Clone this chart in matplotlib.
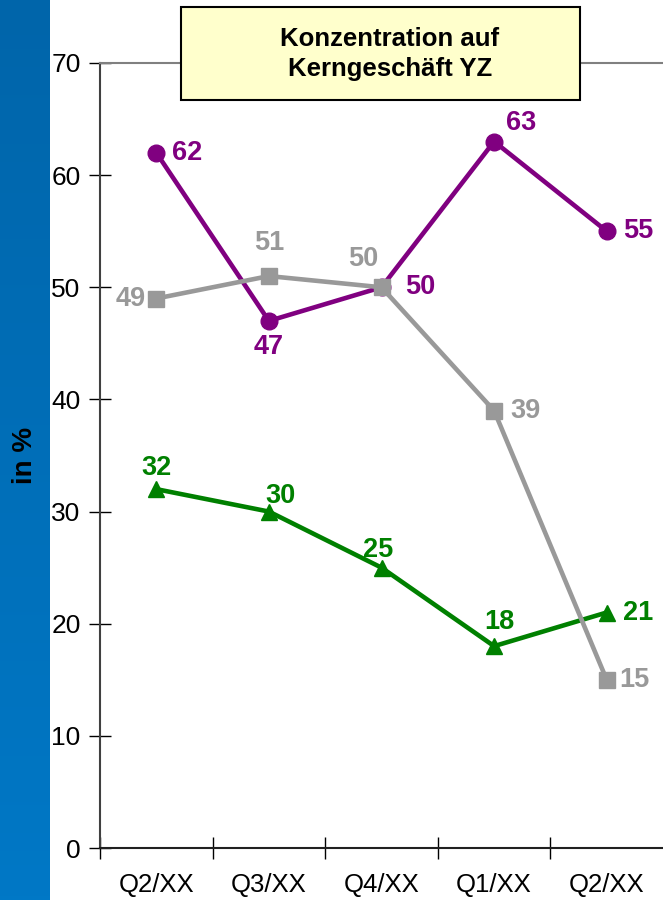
import numpy as np
import matplotlib
matplotlib.use("Agg")
import matplotlib.pyplot as plt
from matplotlib.patches import Rectangle
from matplotlib.colors import LinearSegmentedColormap

plt.rcParams['font.family'] = ['Liberation Sans', 'DejaVu Sans']

quarters = ["Q2/XX", "Q3/XX", "Q4/XX", "Q1/XX", "Q2/XX"]
purple_vals = [62, 47, 50, 63, 55]
gray_vals = [49, 51, 50, 39, 15]
green_vals = [32, 30, 25, 18, 21]

# label offsets in pixels (dx, dy) and horizontal alignment per point
purple_lbl = [((16, 0), 'left'), ((0, -26), 'center'), ((24, 0), 'left'), ((27, 18), 'center'), ((16, 0), 'left')]
gray_lbl = [((-11, 0), 'right'), ((0, 33), 'center'), ((-18, 28), 'center'), ((16, 0), 'left'), ((13, 0), 'left')]
green_lbl = [((0, 21), 'center'), ((12, 16), 'center'), ((-3, 18), 'center'), ((5, 24), 'center'), ((16, 0), 'left')]

PURPLE = "#800080"
GRAY = "#999999"
GREEN = "#008000"

W, H = 663, 900
fig = plt.figure(figsize=(W / 100, H / 100), dpi=100)

# blue side band
band = fig.add_axes([0, 0, 50 / W, 1])
cmap = LinearSegmentedColormap.from_list("band", ["#0065AA", "#0078C6"])
band.imshow(np.linspace(0, 1, 256).reshape(-1, 1), aspect='auto', cmap=cmap,
            extent=[0, 1, 0, 1])
band.set_axis_off()
fig.text(25 / W, 1 - 455 / H, "in %", rotation=90, ha='center', va='center',
         fontsize=20, fontweight='bold', color='black')

ax = fig.add_axes([100 / W, 1 - 848 / H, (663 - 100) / W, (848 - 63) / H])
x = np.arange(len(quarters))

series = [
    (green_vals, GREEN, '^', 12, green_lbl, 3),
    (purple_vals, PURPLE, 'o', 12, purple_lbl, 3),
    (gray_vals, GRAY, 's', 11, gray_lbl, 4),
]
for vals, col, mk, ms, lbls, z in series:
    ax.plot(x, vals, color=col, lw=3.3, marker=mk, markersize=ms,
            markerfacecolor=col, markeredgecolor=col, clip_on=False, zorder=z)
for vals, col, mk, ms, lbls, z in series:
    for xi, v, ((dx, dy), ha) in zip(x, vals, lbls):
        ax.annotate(str(v), (xi, v), xytext=(dx, dy), textcoords='offset pixels',
                    ha=ha, va='center', fontsize=19.5, fontweight='bold', color=col,
                    zorder=5)

ax.set_xlim(-0.5, 4.5)
ax.set_ylim(0, 70)
ax.set_yticks(range(0, 71, 10))
ax.set_xticks(np.arange(-0.5, 4.0, 1.0))
ax.set_xticklabels([])
ax.set_xticks(x, minor=True)
ax.set_xticklabels(quarters, minor=True)
ax.tick_params(axis='x', which='minor', length=0, pad=18, labelsize=18.5)
ax.tick_params(axis='x', which='major', direction='inout', length=16, width=1)
ax.tick_params(axis='y', direction='inout', length=16, width=1, pad=6, labelsize=19)

ax.spines['right'].set_visible(False)
ax.spines['top'].set_color('#808080')
ax.spines['top'].set_linewidth(1.5)
ax.spines['left'].set_color('#404040')
ax.spines['left'].set_linewidth(1.5)
ax.spines['bottom'].set_color('#202020')
ax.spines['bottom'].set_linewidth(1.5)

# title box
fig.patches.append(Rectangle((181 / W, 1 - 100 / H), (580 - 181) / W, (100 - 7) / H,
                             transform=fig.transFigure, facecolor='#FFFFCC',
                             edgecolor='black', linewidth=1.5, zorder=5))
fig.text(390 / W, 1 - 54 / H, "Konzentration auf\nKerngeschäft YZ", ha='center',
         va='center', fontsize=18.5, fontweight='bold', linespacing=1.3, zorder=6)

fig.savefig("out.png", dpi=100)
